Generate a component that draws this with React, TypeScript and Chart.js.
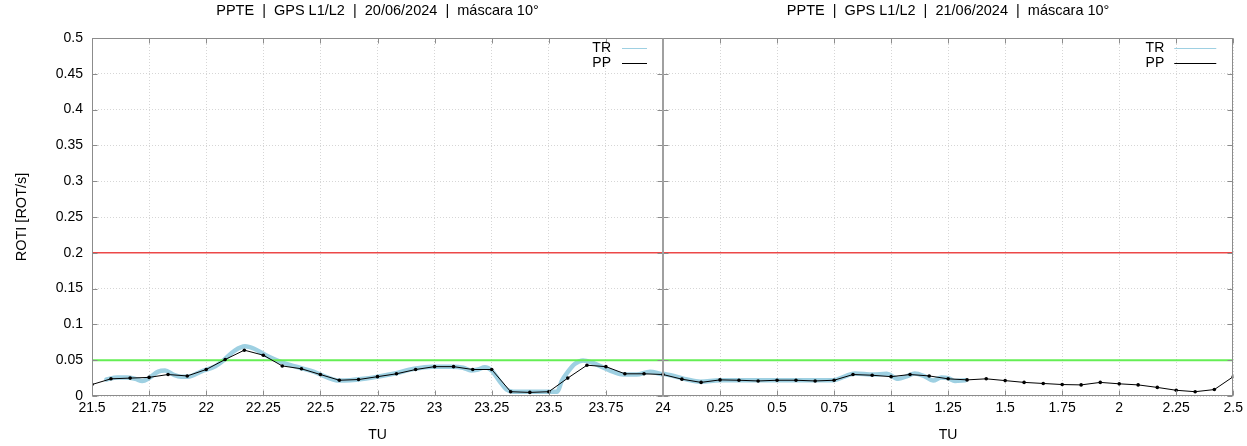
import React, { useEffect, useRef } from 'react';
import { Chart, registerables } from 'chart.js';

Chart.register(...registerables);

const W = 1247;
const H = 446;
const PLOT_TOP = 38;
const PLOT_BOTTOM = 396;
const LEFT_EDGE = 92;
const SPLIT = 663;
const RIGHT_EDGE = 1235;

const TITLE_1 = 'PPTE  |  GPS L1/L2  |  20/06/2024  |  máscara 10°';
const TITLE_2 = 'PPTE  |  GPS L1/L2  |  21/06/2024  |  máscara 10°';
const X_TITLE = 'TU';
const Y_TITLE = 'ROTI [ROT/s]';
const LEGEND_LABELS = ['TR', 'PP'];

const X1_TICKS = [21.5, 21.75, 22, 22.25, 22.5, 22.75, 23, 23.25, 23.5, 23.75, 24];
const X2_TICKS = [0, 0.25, 0.5, 0.75, 1, 1.25, 1.5, 1.75, 2, 2.25, 2.5];
const Y_TICKS = [0, 0.05, 0.1, 0.15, 0.2, 0.25, 0.3, 0.35, 0.4, 0.45, 0.5];

const THRESH_HIGH = 0.2;
const THRESH_LOW = 0.05;

// Day 1 (20/06/2024), PP: 5-minute samples
const PP1_X = [21.5, 21.583, 21.667, 21.75, 21.833, 21.917, 22.0, 22.083, 22.167, 22.25, 22.333, 22.417, 22.5, 22.583, 22.667, 22.75, 22.833, 22.917, 23.0, 23.083, 23.167, 23.25, 23.333, 23.417, 23.5, 23.583, 23.667, 23.75, 23.833, 23.917, 24.0];
const PP1_Y = [0.016, 0.024, 0.025, 0.026, 0.030, 0.028, 0.037, 0.051, 0.064, 0.057, 0.042, 0.038, 0.030, 0.022, 0.023, 0.027, 0.031, 0.037, 0.041, 0.041, 0.037, 0.037, 0.006, 0.005, 0.006, 0.025, 0.043, 0.041, 0.031, 0.031, 0.030];

// Day 1, TR
const TR1_X = [21.563, 21.61, 21.65, 21.69, 21.72, 21.75, 21.79, 21.82, 21.855, 21.89, 21.92, 21.98, 22.04, 22.08, 22.125, 22.17, 22.21, 22.27, 22.32, 22.37, 22.41, 22.47, 22.53, 22.58, 22.63, 22.69, 22.75, 22.82, 22.91, 22.99, 23.075, 23.125, 23.16, 23.19, 23.22, 23.25, 23.285, 23.315, 23.345, 23.41, 23.49, 23.537, 23.556, 23.585, 23.615, 23.65, 23.69, 23.74, 23.78, 23.826, 23.885, 23.943, 23.987, 24.0];
const TR1_Y = [0.023, 0.026, 0.026, 0.024, 0.021, 0.025, 0.034, 0.0355, 0.030, 0.027, 0.027, 0.0345, 0.0415, 0.051, 0.0635, 0.0695, 0.066, 0.0555, 0.0485, 0.043, 0.0395, 0.034, 0.026, 0.0215, 0.022, 0.024, 0.027, 0.031, 0.038, 0.041, 0.041, 0.0395, 0.0355, 0.037, 0.040, 0.0355, 0.0205, 0.009, 0.006, 0.006, 0.006, 0.006, 0.0205, 0.0345, 0.045, 0.0495, 0.0465, 0.0395, 0.034, 0.030, 0.030, 0.034, 0.031, 0.030];

// Day 2 (21/06/2024), PP
const PP2_X = [0, 0.083, 0.167, 0.25, 0.333, 0.417, 0.5, 0.583, 0.667, 0.75, 0.833, 0.917, 1.0, 1.083, 1.167, 1.25, 1.333, 1.417, 1.5, 1.583, 1.667, 1.75, 1.833, 1.917, 2.0, 2.083, 2.167, 2.25, 2.333, 2.417, 2.5];
const PP2_Y = [0.030, 0.0235, 0.019, 0.0225, 0.022, 0.021, 0.022, 0.022, 0.021, 0.022, 0.030, 0.029, 0.027, 0.030, 0.028, 0.024, 0.0225, 0.024, 0.0215, 0.019, 0.0175, 0.016, 0.0155, 0.019, 0.017, 0.0155, 0.012, 0.008, 0.006, 0.009, 0.027];

// Day 2, TR
const TR2_X = [0, 0.047, 0.106, 0.164, 0.25, 0.368, 0.5, 0.615, 0.747, 0.798, 0.841, 0.921, 0.98, 1.031, 1.068, 1.104, 1.147, 1.184, 1.22, 1.25, 1.28, 1.326];
const TR2_Y = [0.031, 0.028, 0.023, 0.020, 0.022, 0.022, 0.022, 0.022, 0.022, 0.0275, 0.0315, 0.030, 0.031, 0.024, 0.0275, 0.0315, 0.0275, 0.0215, 0.026, 0.025, 0.021, 0.022];

const FONT = 'Liberation Sans, Arial, Helvetica, sans-serif';
const TR_COLOR = 'rgb(158, 208, 226)';
const PP_COLOR = '#000000';
const RED = 'rgb(236, 72, 72)';
const GREEN = 'rgb(100, 238, 84)';
const FRAME = '#8c8c8c';
const GRID = 'rgba(0,0,0,0.16)';

const fmt = (v: number) => String(Math.round(v * 100) / 100);
const pts = (xs: number[], ys: number[]) => xs.map((x, i) => ({ x, y: ys[i] }));

const framePlugin = {
  id: 'frameTicks',
  afterDraw(chart: any, _args: any, opts: any) {
    const { ctx, chartArea: a, scales } = chart;
    const L = Math.round(a.left) + 0.5;
    const R = Math.round(a.right) - 0.5;
    const T = Math.round(a.top) + 0.5;
    const B = Math.round(a.bottom) - 0.5;
    ctx.save();
    ctx.strokeStyle = FRAME;
    ctx.lineWidth = 1;
    ctx.beginPath();
    const tl = 5;
    scales.x.ticks.forEach((t: any) => {
      const px = Math.round(scales.x.getPixelForValue(t.value)) + 0.5;
      ctx.moveTo(px, B); ctx.lineTo(px, B - tl);
      ctx.moveTo(px, T); ctx.lineTo(px, T + tl);
    });
    scales.y.ticks.forEach((t: any) => {
      const py = Math.round(scales.y.getPixelForValue(t.value)) + 0.5;
      ctx.moveTo(L, py); ctx.lineTo(L + tl, py);
      ctx.moveTo(R, py); ctx.lineTo(R - tl, py);
    });
    ctx.stroke();
    ctx.strokeRect(L, T, R - L, B - T);
    if (opts && opts.divider) {
      ctx.strokeStyle = '#a0a0a0';
      ctx.lineWidth = 2;
      ctx.beginPath();
      ctx.moveTo(Math.round(a.left), T);
      ctx.lineTo(Math.round(a.left), B);
      ctx.stroke();
    }
    ctx.restore();
  },
};

const legendPlugin = {
  id: 'keyBox',
  afterDraw(chart: any, _args: any, opts: any) {
    const { ctx, chartArea: a } = chart;
    const textOff = opts.textOff;
    const lineStart = opts.lineStart;
    const lineEnd = opts.lineEnd;
    ctx.save();
    ctx.font = `14px ${FONT}`;
    ctx.fillStyle = '#000';
    ctx.textAlign = 'right';
    ctx.textBaseline = 'middle';
    const rows = [
      { label: LEGEND_LABELS[0], color: TR_COLOR, y: a.top + 10 },
      { label: LEGEND_LABELS[1], color: PP_COLOR, y: a.top + 25 },
    ];
    rows.forEach((r) => {
      ctx.fillText(r.label, a.right - textOff, r.y);
      ctx.strokeStyle = r.color;
      ctx.lineWidth = 1;
      ctx.beginPath();
      ctx.moveTo(a.right - lineStart, Math.round(r.y) + 0.5);
      ctx.lineTo(a.right - lineEnd, Math.round(r.y) + 0.5);
      ctx.stroke();
    });
    ctx.restore();
  },
};

function makeConfig(opts: {
  title: string;
  xMin: number;
  xMax: number;
  xTicks: number[];
  pp: { x: number; y: number }[];
  tr: { x: number; y: number }[];
  left: boolean;
}): any {
  const { title, xMin, xMax, xTicks, pp, tr, left } = opts;
  return {
    type: 'line',
    data: {
      datasets: [
        {
          label: 'PP',
          data: pp,
          borderColor: PP_COLOR,
          backgroundColor: PP_COLOR,
          borderWidth: 1,
          pointRadius: 1.8,
          pointBorderWidth: 0,
          tension: 0,
          order: 0,
        },
        {
          label: 'high',
          data: [{ x: xMin, y: THRESH_HIGH }, { x: xMax, y: THRESH_HIGH }],
          borderColor: RED,
          borderWidth: 1.5,
          pointRadius: 0,
          order: 1,
        },
        {
          label: 'low',
          data: [{ x: xMin, y: THRESH_LOW }, { x: xMax, y: THRESH_LOW }],
          borderColor: GREEN,
          borderWidth: 2,
          pointRadius: 0,
          order: 2,
        },
        {
          label: 'TR',
          data: tr,
          borderColor: TR_COLOR,
          borderWidth: 4.5,
          pointRadius: 0,
          cubicInterpolationMode: 'monotone',
          borderCapStyle: 'round',
          borderJoinStyle: 'round',
          order: 3,
        },
      ],
    },
    options: {
      responsive: false,
      animation: false,
      events: [],
      layout: {
        padding: left
          ? { left: 0, right: W - SPLIT, top: 0, bottom: 0 }
          : { left: 0, right: W - RIGHT_EDGE, top: 0, bottom: 0 },
      },
      plugins: {
        legend: { display: false },
        tooltip: { enabled: false },
        title: {
          display: true,
          text: title,
          fullSize: false,
          color: '#000',
          font: { family: FONT, size: 14.5, weight: 'normal' },
          padding: { top: 2, bottom: 38 - 2 - 17.4 },
        },
        frameTicks: { divider: !left },
        keyBox: left
          ? { textOff: 52, lineStart: 41, lineEnd: 16 }
          : { textOff: 69, lineStart: 59, lineEnd: 17 },
      },
      scales: {
        x: {
          type: 'linear',
          min: xMin,
          max: xMax,
          afterBuildTicks: (s: any) => {
            s.ticks = xTicks.map((v) => ({ value: v }));
          },
          afterFit: (s: any) => {
            s.height = H - PLOT_BOTTOM;
          },
          grid: { color: GRID, lineWidth: 1, drawTicks: false },
          border: { display: false, dash: [1, 2] },
          ticks: {
            color: '#000',
            padding: 4,
            maxRotation: 0,
            autoSkip: false,
            font: { family: FONT, size: 14 },
            callback: (v: any) => (!left && v === 0 ? '' : fmt(Number(v))),
          },
          title: {
            display: true,
            text: X_TITLE,
            color: '#000',
            font: { family: FONT, size: 14 },
            padding: { top: 0, bottom: 2 },
          },
        },
        y: {
          type: 'linear',
          min: 0,
          max: 0.5,
          afterBuildTicks: (s: any) => {
            s.ticks = Y_TICKS.map((v) => ({ value: v }));
          },
          afterFit: (s: any) => {
            s.width = left ? LEFT_EDGE : SPLIT;
          },
          grid: { color: GRID, lineWidth: 1, drawTicks: false },
          border: { display: false, dash: [1, 2] },
          ticks: {
            display: left,
            color: '#000',
            padding: 9,
            font: { family: FONT, size: 14 },
            callback: (v: any) => fmt(Number(v)),
          },
          title: {
            display: left,
            text: Y_TITLE,
            color: '#000',
            font: { family: FONT, size: 14.5 },
            padding: { top: 13, bottom: 0 },
          },
        },
      },
    },
    plugins: [framePlugin, legendPlugin],
  };
}

export default function App() {
  const leftRef = useRef<HTMLCanvasElement>(null);
  const rightRef = useRef<HTMLCanvasElement>(null);

  useEffect(() => {
    const c1 = new Chart(
      leftRef.current as HTMLCanvasElement,
      makeConfig({
        title: TITLE_1,
        xMin: 21.5,
        xMax: 24,
        xTicks: X1_TICKS,
        pp: pts(PP1_X, PP1_Y),
        tr: pts(TR1_X, TR1_Y),
        left: true,
      })
    );
    const c2 = new Chart(
      rightRef.current as HTMLCanvasElement,
      makeConfig({
        title: TITLE_2,
        xMin: 0,
        xMax: 2.5,
        xTicks: X2_TICKS,
        pp: pts(PP2_X, PP2_Y),
        tr: pts(TR2_X, TR2_Y),
        left: false,
      })
    );
    return () => {
      c1.destroy();
      c2.destroy();
    };
  }, []);

  const style: React.CSSProperties = { position: 'absolute', left: 0, top: 0, width: W, height: H };
  return (
    <div style={{ position: 'absolute', left: 0, top: 0, width: W, height: H, background: '#fff' }}>
      <canvas ref={leftRef} width={W} height={H} style={style} />
      <canvas ref={rightRef} width={W} height={H} style={style} />
    </div>
  );
}
